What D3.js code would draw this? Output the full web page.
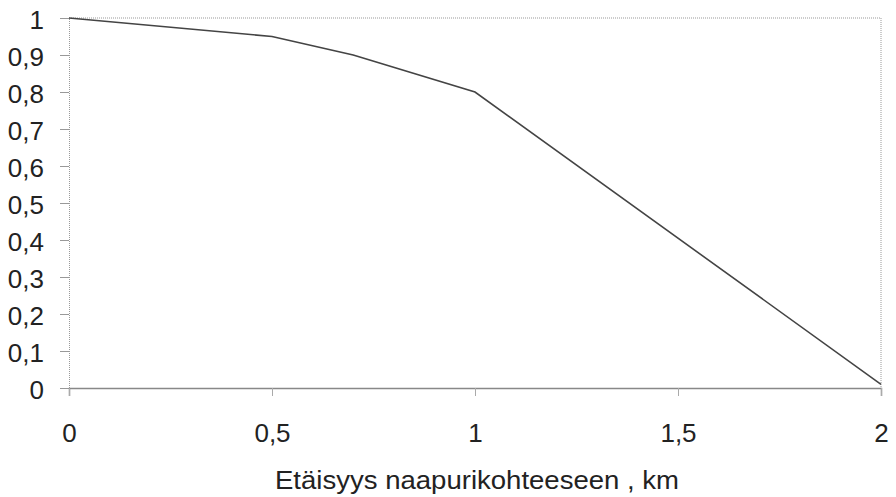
<!DOCTYPE html>
<html><head><meta charset="utf-8">
<script src="https://cdn.jsdelivr.net/npm/d3@7"></script>
<style>body{margin:0;background:#fff}svg{display:block}</style>
</head><body>
<svg id="c" width="896" height="497"></svg>
<script>
const xValues = [0, 0.5, 0.7, 1, 2];
const yValues = [1, 0.95, 0.9, 0.8, 0.01];
const xTicks = [0, 0.5, 1, 1.5, 2];
const yTicks = [0, 0.1, 0.2, 0.3, 0.4, 0.5, 0.6, 0.7, 0.8, 0.9, 1];
const xTitle = "Etäisyys naapurikohteeseen , km";

const svg = d3.select("#c");
const m = {l: 69, r: 881, t: 18, b: 388};
const x = d3.scaleLinear().domain([0, 2]).range([m.l, m.r]);
const y = d3.scaleLinear().domain([0, 1]).range([m.b, m.t]);
const fmt = d => String(d).replace(".", ",");
const font = "'Liberation Sans', Arial, sans-serif";

// frame top/right dotted
svg.append("line").attr("x1", m.l).attr("x2", m.r).attr("y1", m.t).attr("y2", m.t)
  .attr("stroke", "#999").attr("stroke-width", 1).attr("stroke-dasharray", "1,1");
svg.append("line").attr("x1", m.r).attr("x2", m.r).attr("y1", m.t).attr("y2", m.b)
  .attr("stroke", "#999").attr("stroke-width", 1).attr("stroke-dasharray", "1,1");

// y axis
const ya = svg.append("g").attr("transform", `translate(${m.l},0)`)
  .call(d3.axisLeft(y).tickValues(yTicks).tickFormat(fmt).tickSize(9).tickPadding(16));
ya.select(".domain").attr("stroke", "#999").attr("stroke-dasharray", "1,1");
ya.selectAll(".tick line").attr("stroke", "#999");
ya.selectAll("text").attr("font-family", font).attr("font-size", 26).attr("fill", "#222").attr("dy", "0.4em");

// x axis
const xa = svg.append("g").attr("transform", `translate(0,${m.b})`)
  .call(d3.axisBottom(x).tickValues(xTicks).tickFormat(fmt).tickSize(8).tickPadding(28));
xa.select(".domain").attr("stroke", "#888").attr("stroke-width", 1.5);
xa.selectAll(".tick line").attr("stroke", "#aaa");
xa.selectAll("text").attr("font-family", font).attr("font-size", 26).attr("fill", "#222");

svg.append("text").attr("x", 477).attr("y", 489)
  .attr("text-anchor", "middle").attr("font-family", font).attr("font-size", 25)
  .attr("textLength", 404).attr("lengthAdjust", "spacingAndGlyphs")
  .attr("fill", "#222").text(xTitle);

const data = xValues.map((v, i) => [v, yValues[i]]);
svg.append("path").datum(data)
  .attr("d", d3.line().x(d => x(d[0])).y(d => y(d[1])))
  .attr("fill", "none").attr("stroke", "#444").attr("stroke-width", 1.6);
</script>
</body></html>
